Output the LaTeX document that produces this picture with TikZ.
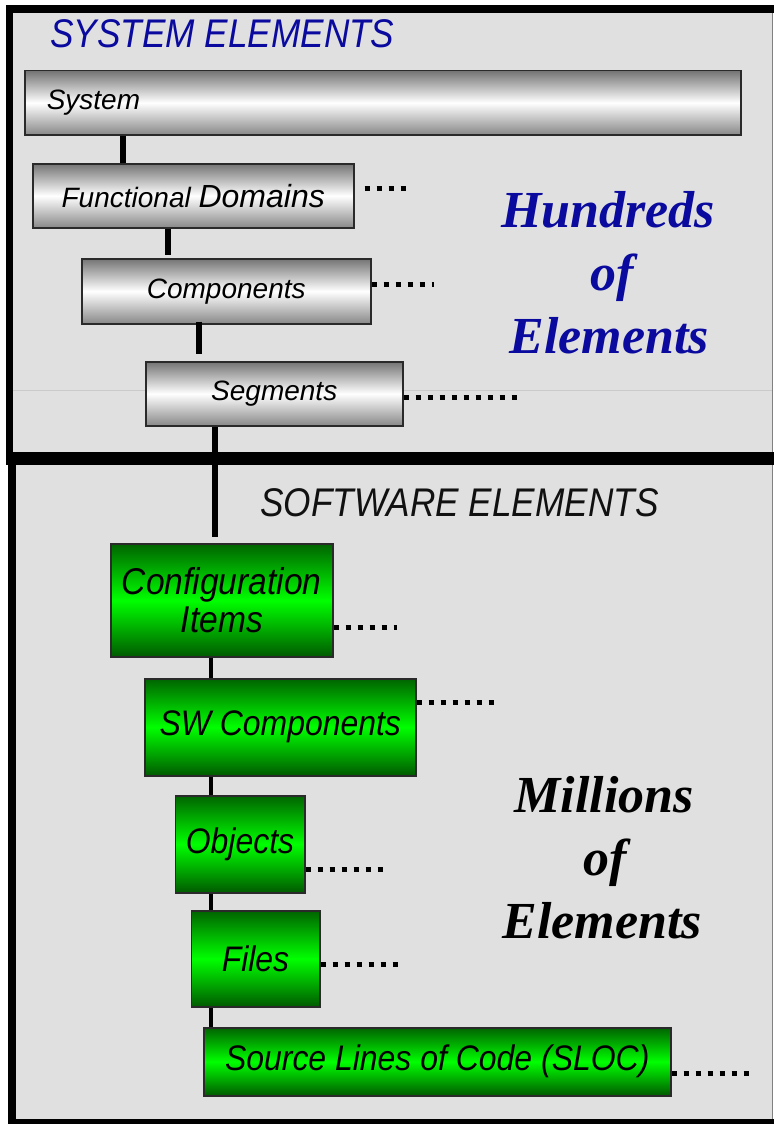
\documentclass[tikz,border=0pt]{standalone}
\usepackage{fontspec}
\setmainfont{Liberation Sans}
\newfontfamily\titlefont[FakeStretch=0.88]{Liberation Sans}
\newfontfamily\leaffont[FakeStretch=0.9]{Liberation Sans}
\newfontfamily\countfont{Liberation Serif}
\usetikzlibrary{calc}

\definecolor{panel}{HTML}{E0E0E0}
\definecolor{seam}{HTML}{CACACA}
\definecolor{navy}{HTML}{0A0A9E}
\definecolor{boxedge}{HTML}{2A2A2A}
\definecolor{steeltop}{HTML}{747474}
\definecolor{steelbot}{HTML}{888888}
\definecolor{leafdark}{HTML}{006400}
\definecolor{leafdeep}{HTML}{005A00}
\definecolor{leaflight}{HTML}{00FF00}
\definecolor{ink}{HTML}{111111}

\tikzset{
  graybox/.style={draw=boxedge, line width=1.5pt, anchor=north west, inner sep=0pt,
    top color=steeltop, bottom color=steelbot, middle color=white,
    font=\itshape\fontsize{28}{32}\selectfont},
  greenbox/.style={draw=boxedge, line width=1.5pt, anchor=north west, inner sep=0pt,
    top color=leafdark, bottom color=leafdeep, middle color=leaflight,
    font=\leaffont\fontsize{35.5}{38}\selectfont\itshape},
  trunk/.style={line width=6pt},
  twig/.style={line width=3.5pt},
  trail/.style={line width=5pt, dash pattern=on 5pt off 7pt},
  heading/.style={anchor=base west, inner sep=0pt,
    font=\titlefont\fontsize{40}{40}\selectfont\itshape},
  tally/.style={anchor=base, inner sep=0pt,
    font=\countfont\fontsize{52}{52}\selectfont\bfseries\itshape},
}

\begin{document}
\begin{tikzpicture}[x=1pt, y=-1pt]
\useasboundingbox (0,0) rectangle (774,1124);
\fill[white] (0,0) rectangle (774,1124);

% upper panel: system elements
\fill[panel] (13,13) rectangle (773,452);
\draw[seam, line width=0.8pt] (13,390) -- (773,390);
\draw[gray, line width=1pt] (772.5,13) -- (772.5,452);
\fill[black] (6,5) rectangle (774,13);
\fill[black] (6,5) rectangle (13,459);
\fill[black] (6,452) rectangle (774,465);

% lower panel: software elements
\fill[panel] (16,465) rectangle (772,1119);
\draw[gray, line width=1pt] (772,465) -- (772,1119);
\fill[black] (8,465) rectangle (16,1124);
\fill[black] (8,1119) rectangle (774,1124);

% headings
\node[heading, text=navy] (systitle) at (50,48) {SYSTEM ELEMENTS};
\node[heading, text=ink] (swtitle) at (260,516) {SOFTWARE ELEMENTS};

% counts
\node[tally, text=navy] (hundA) at (608,227) {Hundreds};
\node[tally, text=navy] (hundB) at (612,290) {of};
\node[tally, text=navy] (hundC) at (609,353) {Elements};
\node[tally, text=black] (millA) at (604,812) {Millions};
\node[tally, text=black] (millB) at (605,875) {of};
\node[tally, text=black] (millC) at (602,938) {Elements};

% system hierarchy
\node[graybox, minimum width=716pt, minimum height=64pt, text width=672pt,
      inner xsep=22pt, align=left] (sys) at (24,70) {System};
\node[graybox, minimum width=321pt, minimum height=64pt] (fd) at (32,163)
  {Functional {\fontsize{32}{34}\selectfont Domains}};
\node[graybox, minimum width=289pt, minimum height=65pt] (comp) at (81,258) {Components};
\node[graybox, minimum width=257pt, minimum height=64pt] (seg) at (145,361) {Segments};

% software hierarchy
\node[greenbox, minimum width=222pt, minimum height=113pt, align=center,
      font=\leaffont\fontsize{37.3}{38}\selectfont\itshape] (ci) at (110,543) {Configuration\\Items};
\node[greenbox, minimum width=271pt, minimum height=97pt] (swc) at (144,678) {SW Components};
\node[greenbox, minimum width=129.5pt, minimum height=97pt] (obj) at (174.5,795) {Objects};
\node[greenbox, minimum width=128.5pt, minimum height=96pt] (files) at (190.5,910) {Files};
\node[greenbox, minimum width=467pt, minimum height=68pt] (sloc) at (203,1027) {Source Lines of Code (SLOC)};

% spine positions
\coordinate (s1) at (123,0);
\coordinate (s2) at (167.5,0);
\coordinate (s3) at (199,0);
\coordinate (s4) at (215,0);
\coordinate (s5) at (211,0);

% connectors
\draw[trunk] (sys.south -| s1) -- (fd.north -| s1);
\draw[trunk, shorten >=3pt] (fd.south -| s2) -- (comp.north -| s2);
\draw[trunk, shorten <=-3pt, shorten >=7pt] (comp.south -| s3) -- (seg.north -| s3);
\draw[trunk, shorten >=6pt] (seg.south -| s4) -- (ci.north -| s4);
\draw[twig] (ci.south -| s5) -- (swc.north -| s5);
\draw[twig] (swc.south -| s5) -- (obj.north -| s5);
\draw[twig] (obj.south -| s5) -- (files.north -| s5);
\draw[twig] (files.south -| s5) -- (sloc.north -| s5);

% continuation dots
\coordinate (fdEnd) at (407,188);
\coordinate (compEnd) at (434,284);
\coordinate (segEnd) at (522,397);
\coordinate (ciEnd) at (397,627);
\coordinate (swcEnd) at (495,702);
\coordinate (objEnd) at (383,869);
\coordinate (filesEnd) at (399,964);
\coordinate (slocEnd) at (749,1073);
\draw[trail, shorten <=10pt] (fd.east |- fdEnd) -- (fdEnd);
\draw[trail] (comp.east |- compEnd) -- (compEnd);
\draw[trail] (seg.east |- segEnd) -- (segEnd);
\draw[trail] (ci.east |- ciEnd) -- (ciEnd);
\draw[trail] (swc.east |- swcEnd) -- (swcEnd);
\draw[trail] (obj.east |- objEnd) -- (objEnd);
\draw[trail] (files.east |- filesEnd) -- (filesEnd);
\draw[trail] (sloc.east |- slocEnd) -- (slocEnd);
\end{tikzpicture}
\end{document}
